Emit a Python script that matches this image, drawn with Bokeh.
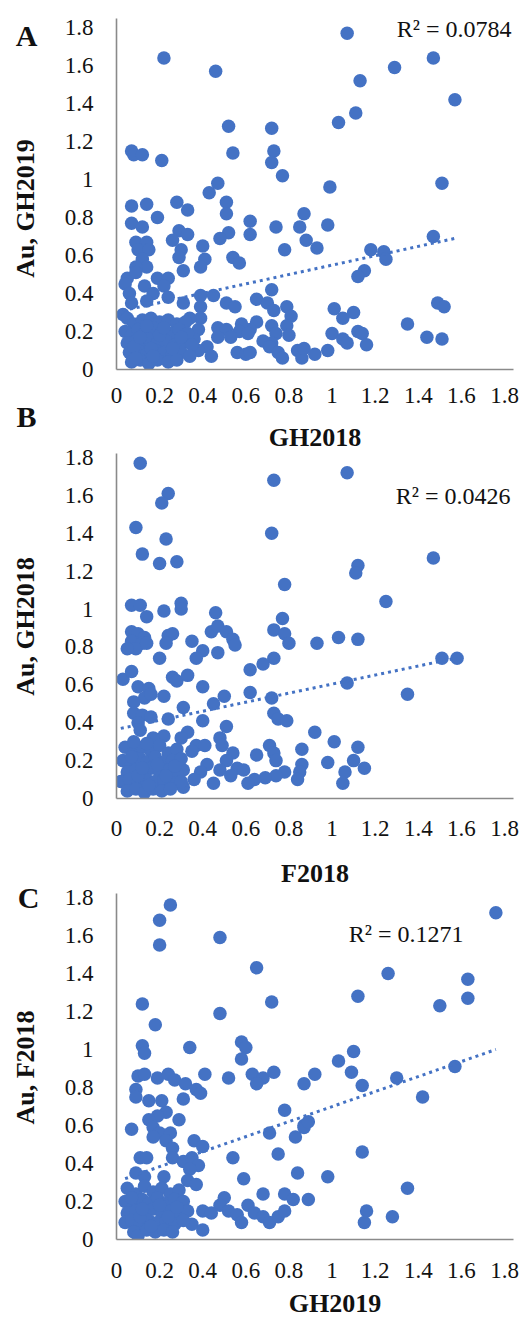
import math
from bokeh.plotting import figure
from bokeh.models import Label, FixedTicker, Range1d
from bokeh.layouts import column, row
from bokeh.embed import file_html
from bokeh.resources import INLINE

# ---------------- data ----------------
ticks = [0, 0.2, 0.4, 0.6, 0.8, 1, 1.2, 1.4, 1.6, 1.8]
tick_labels = ["0", "0.2", "0.4", "0.6", "0.8", "1", "1.2", "1.4", "1.6", "1.8"]

a_x = [1.07, 0.22, 0.46, 1.29, 1.47, 1.13, 1.57, 1.11, 1.03, 0.52,
       0.72, 0.07, 0.08, 0.12, 0.21, 0.54, 0.73, 0.72, 0.77, 0.99,
       1.51, 0.47, 0.43, 0.51, 0.51, 0.07, 0.14, 0.28, 0.33, 0.07,
       0.12, 0.19, 0.62, 0.62, 0.74, 0.85, 0.87, 0.88, 0.78, 0.29,
       0.33, 0.26, 0.52, 0.48, 0.30, 0.29, 0.40, 0.41, 0.39, 0.54,
       0.57, 0.31, 0.09, 0.14, 0.10, 0.15, 0.12, 0.14, 0.09, 0.05,
       0.04, 0.09, 0.19, 0.24, 0.22, 0.13, 0.17, 0.06, 0.07, 0.14,
       0.24, 0.03, 0.39, 0.45, 0.31, 0.51, 0.55, 0.65, 0.72, 0.70,
       0.73, 0.79, 0.81, 0.65, 0.62, 0.72, 0.79, 0.74, 0.80, 0.72,
       0.39, 0.39, 0.58, 0.57, 0.61, 0.47, 0.51, 0.47, 0.53, 0.56,
       0.60, 0.62, 0.68, 0.71, 0.75, 0.77, 0.84, 0.86, 0.42, 0.44,
       0.34, 0.38, 0.36, 0.38, 0.93, 0.98, 1.47, 1.18, 1.24, 1.25,
       1.15, 1.12, 1.01, 1.10, 1.05, 1.35, 1.49, 1.52, 1.00, 1.05,
       1.07, 1.12, 1.14, 1.16, 1.44, 1.51, 0.87, 0.92, 0.98,
       0.05, 0.08, 0.12, 0.16, 0.20, 0.24, 0.28, 0.32, 0.04, 0.07,
       0.10, 0.13, 0.17, 0.21, 0.25, 0.29, 0.33, 0.05, 0.09, 0.12,
       0.15, 0.19, 0.23, 0.27, 0.31, 0.35, 0.06, 0.10, 0.14, 0.18,
       0.22, 0.26, 0.30, 0.34, 0.07, 0.11, 0.15, 0.19, 0.24, 0.28,
       0.08, 0.11, 0.16, 0.20, 0.14, 0.09, 0.17, 0.26, 0.22, 0.30]
a_y = [1.77, 1.64, 1.57, 1.59, 1.64, 1.52, 1.42, 1.35, 1.30, 1.28,
       1.27, 1.15, 1.13, 1.13, 1.10, 1.14, 1.15, 1.09, 1.02, 0.96,
       0.98, 0.98, 0.93, 0.88, 0.82, 0.86, 0.87, 0.88, 0.84, 0.77,
       0.75, 0.80, 0.78, 0.71, 0.75, 0.75, 0.82, 0.68, 0.63, 0.73,
       0.71, 0.68, 0.72, 0.69, 0.63, 0.59, 0.65, 0.58, 0.54, 0.59,
       0.56, 0.52, 0.67, 0.67, 0.63, 0.63, 0.58, 0.54, 0.54, 0.48,
       0.45, 0.51, 0.48, 0.48, 0.44, 0.44, 0.40, 0.40, 0.35, 0.36,
       0.38, 0.29, 0.39, 0.39, 0.35, 0.35, 0.33, 0.37, 0.42, 0.35,
       0.31, 0.33, 0.28, 0.25, 0.21, 0.23, 0.23, 0.19, 0.18, 0.14,
       0.33, 0.27, 0.24, 0.20, 0.19, 0.22, 0.21, 0.17, 0.17, 0.09,
       0.08, 0.09, 0.15, 0.12, 0.09, 0.06, 0.10, 0.06, 0.12, 0.07,
       0.27, 0.21, 0.16, 0.10, 0.64, 0.76, 0.70, 0.63, 0.62, 0.58,
       0.52, 0.49, 0.32, 0.30, 0.27, 0.24, 0.35, 0.33, 0.19, 0.16,
       0.14, 0.20, 0.19, 0.13, 0.17, 0.16, 0.11, 0.08, 0.10,
       0.27, 0.24, 0.26, 0.27, 0.25, 0.26, 0.24, 0.25, 0.20, 0.18,
       0.21, 0.19, 0.22, 0.20, 0.19, 0.21, 0.19, 0.14, 0.15, 0.13,
       0.16, 0.14, 0.15, 0.13, 0.14, 0.13, 0.09, 0.10, 0.08, 0.10,
       0.09, 0.08, 0.09, 0.07, 0.04, 0.05, 0.03, 0.05, 0.04, 0.05,
       0.12, 0.17, 0.11, 0.18, 0.23, 0.06, 0.07, 0.11, 0.22, 0.17]

b_x = [0.11, 0.73, 1.07, 0.24, 0.21, 0.09, 0.23, 0.72, 0.12, 0.20,
       0.28, 1.47, 1.12, 1.11, 0.78, 1.25, 0.07, 0.11, 0.14, 0.22,
       0.30, 0.30, 0.46, 0.44, 0.47, 0.51, 0.54, 0.55, 0.77, 0.73,
       0.78, 0.80, 0.07, 0.10, 0.13, 0.07, 0.12, 0.09, 0.05, 0.14,
       0.24, 0.26, 0.23, 0.35, 0.40, 0.37, 0.47, 0.20, 0.62, 0.68,
       0.73, 0.03, 0.07, 0.26, 0.28, 0.33, 0.40, 0.10, 0.15, 0.13,
       0.08, 0.16, 0.22, 0.62, 0.50, 0.72, 0.45, 0.31, 0.73, 0.75,
       0.79, 0.24, 0.40, 0.08, 0.12, 0.16, 0.10, 0.11, 0.51, 0.48,
       0.49, 0.33, 0.30, 0.22, 0.17, 0.37, 0.41, 0.35, 0.54, 0.51,
       0.56, 0.65, 0.71, 0.73, 0.74, 0.86, 0.86, 0.85, 0.84, 0.78,
       0.74, 0.69, 0.64, 0.61, 0.59, 0.53, 0.48, 0.45, 0.42, 0.39,
       0.36, 0.31, 0.31, 0.93, 1.03, 1.12, 1.51, 1.58, 1.07, 1.35,
       0.92, 1.01, 1.12, 0.98, 1.10, 1.15, 1.06, 1.05,
       0.04, 0.08, 0.12, 0.16, 0.20, 0.24, 0.28, 0.03, 0.07, 0.11,
       0.14, 0.18, 0.22, 0.26, 0.30, 0.05, 0.09, 0.13, 0.16, 0.20,
       0.24, 0.28, 0.02, 0.06, 0.10, 0.14, 0.18, 0.22, 0.26, 0.30,
       0.05, 0.09, 0.13, 0.17, 0.21, 0.25, 0.10, 0.15, 0.19, 0.07,
       0.23, 0.12, 0.27, 0.08, 0.14]
b_y = [1.77, 1.68, 1.72, 1.61, 1.56, 1.43, 1.37, 1.40, 1.29, 1.24,
       1.25, 1.27, 1.23, 1.19, 1.13, 1.04, 1.02, 1.02, 0.96, 0.99,
       1.03, 1.00, 0.98, 0.88, 0.91, 0.88, 0.84, 0.81, 0.95, 0.89,
       0.87, 0.82, 0.88, 0.87, 0.85, 0.83, 0.82, 0.79, 0.79, 0.82,
       0.86, 0.87, 0.82, 0.83, 0.78, 0.74, 0.77, 0.74, 0.68, 0.71,
       0.74, 0.63, 0.67, 0.64, 0.62, 0.65, 0.59, 0.59, 0.58, 0.53,
       0.51, 0.55, 0.54, 0.56, 0.54, 0.53, 0.50, 0.48, 0.45, 0.42,
       0.41, 0.42, 0.41, 0.45, 0.44, 0.43, 0.40, 0.36, 0.38, 0.32,
       0.28, 0.35, 0.32, 0.33, 0.32, 0.28, 0.28, 0.25, 0.24, 0.20,
       0.16, 0.23, 0.28, 0.24, 0.20, 0.26, 0.18, 0.14, 0.10, 0.14,
       0.12, 0.11, 0.10, 0.08, 0.15, 0.12, 0.15, 0.08, 0.18, 0.14,
       0.10, 0.15, 0.06, 0.82, 0.85, 0.84, 0.74, 0.74, 0.61, 0.55,
       0.35, 0.30, 0.27, 0.19, 0.20, 0.16, 0.14, 0.08,
       0.27, 0.24, 0.27, 0.25, 0.28, 0.24, 0.26, 0.20, 0.18, 0.21,
       0.19, 0.22, 0.19, 0.20, 0.21, 0.14, 0.15, 0.13, 0.16, 0.14,
       0.15, 0.13, 0.09, 0.10, 0.08, 0.10, 0.09, 0.10, 0.08, 0.09,
       0.04, 0.05, 0.03, 0.05, 0.04, 0.05, 0.12, 0.07, 0.18, 0.22,
       0.12, 0.16, 0.17, 0.30, 0.29]

c_x = [0.25, 0.20, 0.20, 0.48, 1.76, 0.65, 1.26, 1.63, 1.63, 1.12,
       1.50, 0.72, 0.12, 0.48, 0.18, 0.12, 0.13, 0.34, 0.58, 0.60,
       0.58, 0.10, 0.13, 0.19, 0.24, 0.27, 0.32, 0.37, 0.39, 0.41,
       0.52, 0.63, 0.68, 0.73, 0.65, 0.87, 0.09, 0.09, 0.15, 0.21,
       0.31, 0.23, 0.19, 0.15, 0.29, 0.07, 0.17, 0.20, 0.25, 0.17,
       0.23, 0.78, 0.87, 0.83, 0.71, 0.36, 0.40, 0.26, 0.26, 0.31,
       0.35, 0.38, 0.34, 0.54, 0.75, 0.11, 0.14, 0.09, 0.13, 0.22,
       0.33, 0.37, 0.59, 0.84, 0.68, 0.78, 0.82, 0.89, 0.50, 0.48,
       0.52, 0.56, 0.58, 0.61, 0.64, 0.68, 0.71, 0.75, 0.78, 0.40,
       0.44, 0.35, 0.40, 1.10, 1.03, 1.09, 0.92, 1.14, 1.30, 1.57,
       1.42, 0.87, 0.89, 1.14, 0.98, 1.35, 1.16, 1.15, 1.28,
       0.05, 0.09, 0.13, 0.17, 0.21, 0.25, 0.29, 0.04, 0.08, 0.12,
       0.15, 0.19, 0.23, 0.27, 0.31, 0.05, 0.09, 0.13, 0.17, 0.21,
       0.25, 0.29, 0.33, 0.04, 0.07, 0.11, 0.15, 0.19, 0.23, 0.27,
       0.31, 0.08, 0.10, 0.14, 0.18, 0.22, 0.26, 0.11, 0.16, 0.20,
       0.07, 0.24, 0.12, 0.28]
c_y = [1.76, 1.68, 1.55, 1.59, 1.72, 1.43, 1.40, 1.37, 1.27, 1.28,
       1.23, 1.25, 1.24, 1.19, 1.13, 1.02, 0.98, 1.01, 1.04, 1.01,
       0.95, 0.86, 0.87, 0.85, 0.87, 0.84, 0.82, 0.79, 0.77, 0.87,
       0.85, 0.87, 0.85, 0.88, 0.82, 0.82, 0.79, 0.75, 0.73, 0.73,
       0.74, 0.67, 0.65, 0.63, 0.63, 0.58, 0.59, 0.56, 0.56, 0.54,
       0.52, 0.68, 0.60, 0.54, 0.56, 0.52, 0.49, 0.48, 0.43, 0.41,
       0.43, 0.39, 0.37, 0.43, 0.45, 0.43, 0.43, 0.35, 0.33, 0.33,
       0.31, 0.29, 0.32, 0.35, 0.24, 0.24, 0.21, 0.21, 0.22, 0.18,
       0.15, 0.13, 0.09, 0.18, 0.14, 0.12, 0.09, 0.12, 0.15, 0.15,
       0.14, 0.08, 0.05, 0.99, 0.94, 0.88, 0.87, 0.81, 0.85, 0.91,
       0.75, 0.59, 0.62, 0.46, 0.33, 0.27, 0.15, 0.09, 0.12,
       0.27, 0.24, 0.28, 0.25, 0.27, 0.24, 0.26, 0.20, 0.18, 0.21,
       0.19, 0.22, 0.19, 0.21, 0.20, 0.14, 0.15, 0.13, 0.16, 0.14,
       0.15, 0.13, 0.15, 0.09, 0.10, 0.08, 0.10, 0.09, 0.10, 0.08,
       0.10, 0.04, 0.02, 0.05, 0.04, 0.05, 0.04, 0.12, 0.07, 0.18,
       0.22, 0.12, 0.16, 0.17]

trend_a_x = [0.03, 1.57]
trend_a_y = [0.31, 0.69]
trend_b_x = [0.02, 1.57]
trend_b_y = [0.37, 0.74]
trend_c_x = [0.04, 1.76]
trend_c_y = [0.32, 1.00]

r2_texts = ["R² = 0.0784", "R² = 0.0426", "R² = 0.1271"]
x_titles = ["GH2018", "F2018", "GH2019"]
y_titles = ["Au, GH2019", "Au, GH2018", "Au, F2018"]
panel_letters = ["A", "B", "C"]

# ---------------- style / layout ----------------
BLUE = "#4472C4"
AXIS_GRAY = "#8a8a8a"
TEXT = "#111111"
SERIF = "Liberation Serif"
PAGE_W, PAGE_H = 526, 1318
LEFT_W = 50                       # strip for panel letters / y titles
MAIN_W = PAGE_W - LEFT_W
X0_PAGE, X18_PAGE = 116, 504      # page x of 0 and 1.8
FRAME_RIGHT_PAGE = 513
X_END = 1.8 * (FRAME_RIGHT_PAGE - X0_PAGE) / (X18_PAGE - X0_PAGE)


def add_text(p, to_data, text, px, py, size, bold=False, align="center",
             angle=0.0, baseline="middle"):
    x, y = to_data(px, py)
    p.add_layout(Label(x=x, y=y, text=text, text_font=SERIF,
                       text_font_size=size,
                       text_font_style="bold" if bold else "normal",
                       text_align=align, text_baseline=baseline,
                       text_color=TEXT, angle=angle))


def make_panel(xs, ys, tx, ty, fig_top, fig_bottom, y0_page, y18_page,
               frame_top_page, tick_standoff, top_title=None, title_standoff=0):
    scale = (y0_page - y18_page) / 1.8
    y_end = (y0_page - frame_top_page) / scale
    p = figure(width=MAIN_W, height=fig_bottom - fig_top, output_backend="svg",
               toolbar_location=None, x_range=Range1d(0, X_END),
               y_range=Range1d(0, y_end))
    p.min_border_left = X0_PAGE - LEFT_W
    p.min_border_right = PAGE_W - FRAME_RIGHT_PAGE
    p.min_border_top = frame_top_page - fig_top
    p.min_border_bottom = fig_bottom - y0_page
    p.outline_line_color = None
    p.xgrid.visible = False
    p.ygrid.visible = False
    if top_title is not None:
        # x-axis title of the panel above, drawn in this figure's top border
        p.title.text = top_title
        p.title.align = "center"
        p.title.text_font = SERIF
        p.title.text_font_size = "26px"
        p.title.text_font_style = "bold"
        p.title.text_color = TEXT
        p.title.standoff = title_standoff
    for ax in (p.xaxis[0], p.yaxis[0]):
        ax.ticker = FixedTicker(ticks=ticks)
        ax.major_label_overrides = {t: l for t, l in zip(ticks, tick_labels)}
        ax.major_tick_in = 0
        ax.major_tick_out = 0
        ax.minor_tick_in = 0
        ax.minor_tick_out = 0
        ax.axis_line_color = AXIS_GRAY
        ax.axis_line_width = 1.6
        ax.major_label_text_font = SERIF
        ax.major_label_text_font_size = "23px"
        ax.major_label_text_color = TEXT
    p.xaxis[0].major_label_standoff = tick_standoff
    p.yaxis[0].major_label_standoff = 23

    p.scatter(xs, ys, size=13.5, fill_color=BLUE, line_color=None)
    p.line(tx, ty, line_color=BLUE, line_width=3, line_dash="3 4")

    def to_data(px, py):
        return (px - X0_PAGE) / ((X18_PAGE - X0_PAGE) / 1.8), (y0_page - py) / scale

    return p, to_data


def make_strip(width, top, bottom, left_page):
    s = figure(width=width, height=bottom - top, output_backend="svg",
               toolbar_location=None, x_range=Range1d(0, width),
               y_range=Range1d(0, bottom - top), x_axis_location=None,
               y_axis_location=None, min_border=0)
    s.min_border_left = 0
    s.min_border_right = 0
    s.min_border_top = 0
    s.min_border_bottom = 0
    s.outline_line_color = None
    s.xgrid.visible = False
    s.ygrid.visible = False

    def to_data(px, py):
        return px - left_page, bottom - py

    return s, to_data


# main panels (page coordinates)
pa, ta = make_panel(a_x, a_y, trend_a_x, trend_a_y, 0, 416, 369, 27, 18, 18)
pb, tb = make_panel(b_x, b_y, trend_b_x, trend_b_y, 416, 848, 798, 457, 453, 22,
                    top_title=x_titles[0], title_standoff=4)
pc, tc = make_panel(c_x, c_y, trend_c_x, trend_c_y, 848, 1289, 1239, 897, 893, 23,
                    top_title=x_titles[1], title_standoff=12)
sc, tsc = make_strip(MAIN_W, 1289, PAGE_H, LEFT_W)

add_text(pa, ta, r2_texts[0], 511, 28, "24px", align="right")
add_text(pb, tb, r2_texts[1], 510, 495, "24px", align="right")
add_text(pc, tc, r2_texts[2], 463, 933, "24px", align="right")

add_text(sc, tsc, x_titles[2], 312, 1317, "26px", bold=True, baseline="bottom")

# left strip: panel letters and rotated y titles
side, tside = make_strip(LEFT_W, 0, PAGE_H, 0)
add_text(side, tside, panel_letters[0], 26, 35, "30px", bold=True)
add_text(side, tside, panel_letters[1], 26, 416, "30px", bold=True)
add_text(side, tside, panel_letters[2], 28, 897, "30px", bold=True)
add_text(side, tside, y_titles[0], 25, 208, "26px", bold=True, angle=math.pi / 2)
add_text(side, tside, y_titles[1], 25, 626, "26px", bold=True, angle=math.pi / 2)
add_text(side, tside, y_titles[2], 25, 1067, "26px", bold=True, angle=math.pi / 2)

layout = row(side, column(pa, pb, pc, sc, spacing=0), spacing=0)
open("out.html", "w").write(file_html(layout, INLINE))
